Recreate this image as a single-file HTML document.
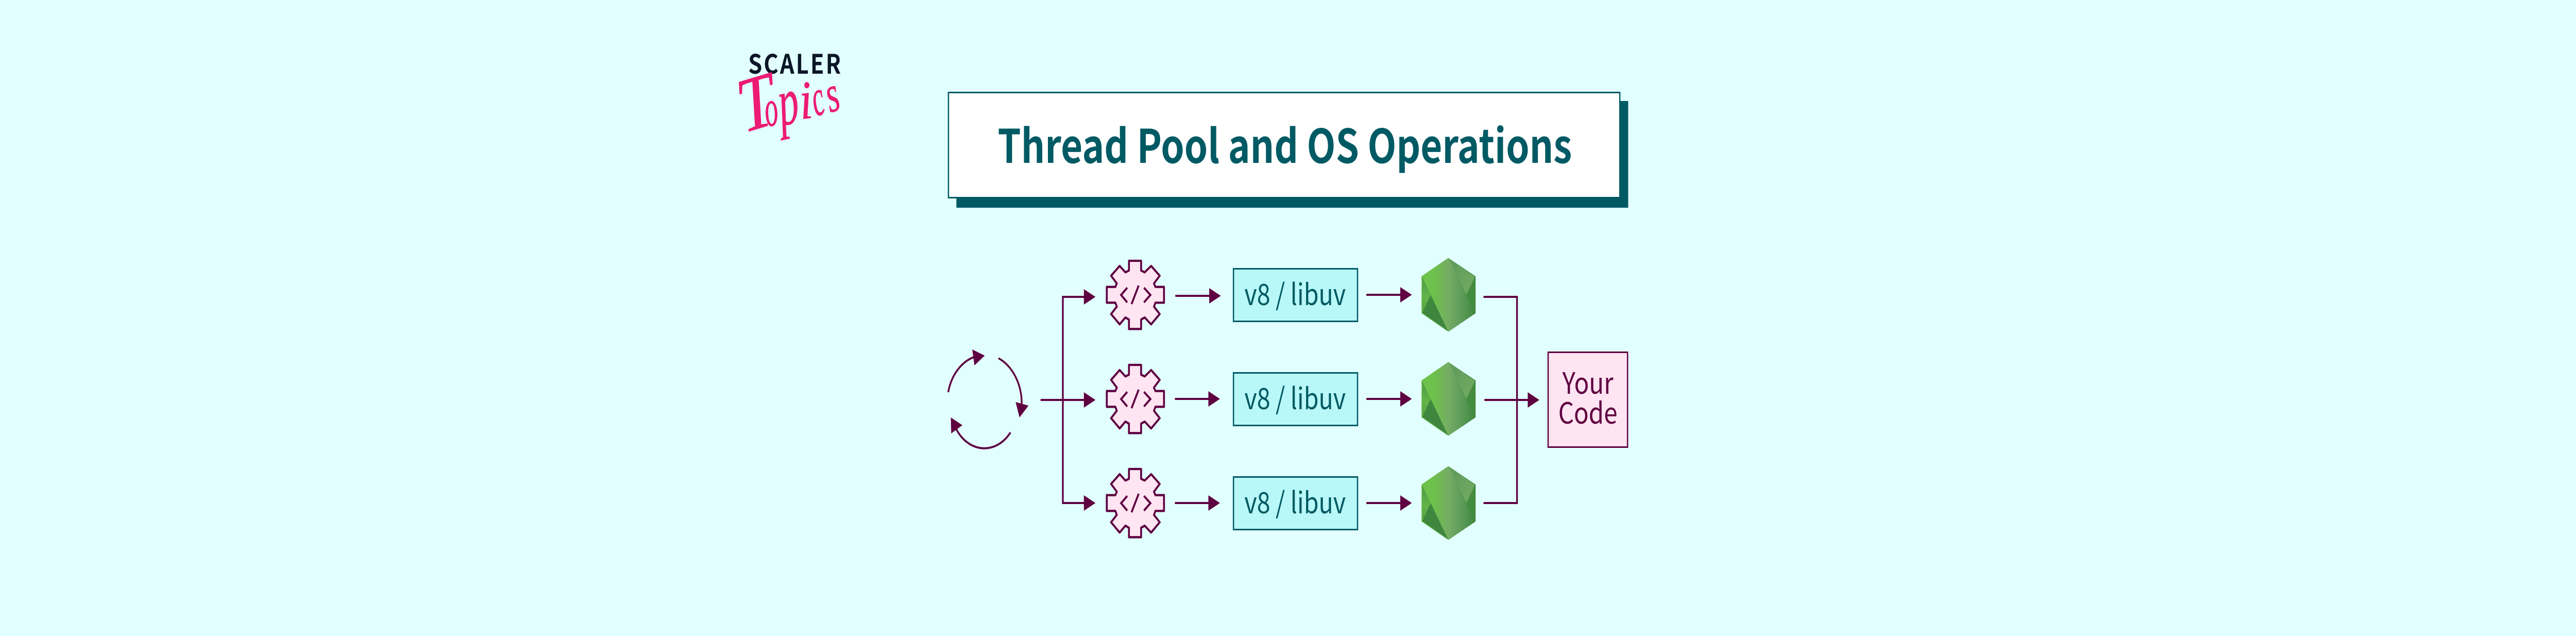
<!DOCTYPE html>
<html><head><meta charset="utf-8"><style>
html,body{margin:0;padding:0;background:#e2ffff;width:100%;height:100%;overflow:hidden}
svg{display:block;width:100vw;height:100vh}
.n{font-family:"Noto Sans CJK JP","Liberation Sans",sans-serif}
</style></head><body>
<svg xmlns="http://www.w3.org/2000/svg" viewBox="0 0 6001 1234" preserveAspectRatio="none">
<defs>
<linearGradient id="gm" x1="0" x2="1" y1="0" y2="0"><stop offset="0" stop-color="#6cc24a"/><stop offset=".2" stop-color="#6cc24a"/><stop offset=".5" stop-color="#75ac64"/><stop offset=".72" stop-color="#5f9e5c"/><stop offset="1" stop-color="#3f873f"/></linearGradient>
<linearGradient id="gu" x1="0" x2="1" y1="0" y2="1"><stop offset="0" stop-color="#5c9a58"/><stop offset="1" stop-color="#75ac64"/></linearGradient>
<linearGradient id="gl" x1="0" x2="0" y1="0" y2="1"><stop offset="0" stop-color="#4f9a45"/><stop offset=".6" stop-color="#62b348"/><stop offset="1" stop-color="#569f45"/></linearGradient>
<g id="gear">
<path d="M240 48H325V105L350 115L395 78L455 135L415 180L425 200H485V292H425L415 315L455 358L395 418L350 378L325 390V445H240V390L215 378L175 418L115 358L155 315L145 292H85V200H145L155 180L115 135L175 78L215 115L240 105Z" fill="#ffe4f2" stroke="#5f0040" stroke-width="13" stroke-linejoin="round"/>
<path d="M228 205L185 247L228 290M308 192L258 300M345 205L390 247L345 290" fill="none" stroke="#5f0040" stroke-width="13"/>
</g>
<g id="hex">
<path d="M3313 537L3374 502L3436 537V607L3374 642L3313 607Z" fill="url(#gm)" stroke="url(#gm)" stroke-width="3" stroke-linejoin="round"/>
<path d="M3376 502L3436 537L3416 572Z" fill="url(#gu)"/>
<path d="M3436 537V605L3416 572Z" fill="#448c40"/>
<path d="M3313 537L3333 572L3313 605Z" fill="url(#gl)"/>
<path d="M3333 572L3313 607L3373 642Z" fill="#3f873f"/>
</g>
<g id="box">
<rect x="2873.500" y="521.500" width="289" height="102" fill="#b9f8f8" stroke="#005a64" stroke-width="3"/>
<text class="n" x="2899" y="592" font-size="57" fill="#005a64" textLength="236" lengthAdjust="spacingAndGlyphs">v8 / libuv</text>
</g>
</defs>
<rect width="6001" height="1234" fill="#e2ffff"/>

<!-- logo -->
<text class="n" x="1743" y="143" font-weight="700" font-size="52" fill="#0b1626" textLength="216" lengthAdjust="spacing">SCALER</text>
<g font-family="'Liberation Serif',serif" font-style="italic" fill="#ec1c74" stroke="#ec1c74" stroke-width="1">
<text transform="translate(1732,258) rotate(-14) scale(1,1)" font-size="150">T</text>
<text transform="translate(1786,246) rotate(-10) scale(.62,1)" font-size="100">o</text>
<text transform="translate(1820,244) rotate(-10) scale(.72,1)" font-size="130">p</text>
<text transform="translate(1866,231) rotate(-6)" font-size="105">i</text>
<text transform="translate(1900,226) rotate(-16) scale(.62,1)" font-size="100">c</text>
<text transform="translate(1934,219) rotate(-18) scale(.75,1)" font-size="100">s</text>
</g>

<!-- title -->
<rect x="2228" y="196" width="1565" height="207" fill="#005a64"/>
<rect x="2209.500" y="179.500" width="1564" height="204" fill="#fff" stroke="#005a64" stroke-width="3"/>
<text class="n" x="2324" y="316" font-size="90" font-weight="700" fill="#005a64" textLength="1338" lengthAdjust="spacingAndGlyphs">Thread Pool and OS Operations</text>

<!-- cycle -->
<g fill="none" stroke="#5f0040" stroke-width="4">
<path d="M2209 761A88 92 0 0 1 2268 693"/>
<path d="M2326 695A92 96 0 0 1 2380 787"/>
<path d="M2354 839A78 82 0 0 1 2228 833"/>
</g>
<g fill="#5f0040">
<path d="M2265 678L2294 690L2270 709Z"/>
<path d="M2366 780L2396 787L2375 810Z"/>
<path d="M2215 810L2242 825L2216 841Z"/>
</g>

<!-- split -->
<g fill="none" stroke="#5f0040" stroke-width="4">
<path d="M2527 576H2476V976H2527"/>
<path d="M2424 776H2527"/>
<path d="M2738 574H2820M2737 774H2820M2737 976H2820"/>
<path d="M3183 572H3265M3183 774H3265M3183 976H3265"/>
<path d="M3456 576H3534V976H3456"/>
<path d="M3458 776H3562"/>
</g>
<g fill="#5f0040">
<path d="M2525 561L2552 576L2525 591Z"/>
<path d="M2525 761L2552 776L2525 791Z"/>
<path d="M2525 961L2552 976L2525 991Z"/>
<path d="M2817 559L2844 574L2817 589Z"/>
<path d="M2815 759L2842 774L2815 789Z"/>
<path d="M2815 961L2842 976L2815 991Z"/>
<path d="M3262 557L3289 572L3262 587Z"/>
<path d="M3262 759L3289 774L3262 789Z"/>
<path d="M3262 961L3289 976L3262 991Z"/>
<path d="M3559 761L3586 776L3559 791Z"/>
</g>

<!-- gears -->
<use href="#gear" transform="translate(2550,490) scale(.3333)"/>
<use href="#gear" transform="translate(2550,692) scale(.3333)"/>
<use href="#gear" transform="translate(2550,894) scale(.3333)"/>

<!-- v8 boxes -->
<use href="#box"/>
<use href="#box" transform="translate(0,202)"/>
<use href="#box" transform="translate(0,404)"/>

<!-- node hexagons -->
<use href="#hex"/>
<use href="#hex" transform="translate(0,202)"/>
<use href="#hex" transform="translate(0,404)"/>

<!-- your code -->
<rect x="3606.500" y="683.500" width="185" height="184" fill="#ffe4f2" stroke="#5f0040" stroke-width="3"/>
<text class="n" x="3699" y="764" font-size="57" fill="#5f0040" text-anchor="middle">Your</text>
<text class="n" x="3699" y="822" font-size="57" fill="#5f0040" text-anchor="middle">Code</text>
</svg>
</body></html>
